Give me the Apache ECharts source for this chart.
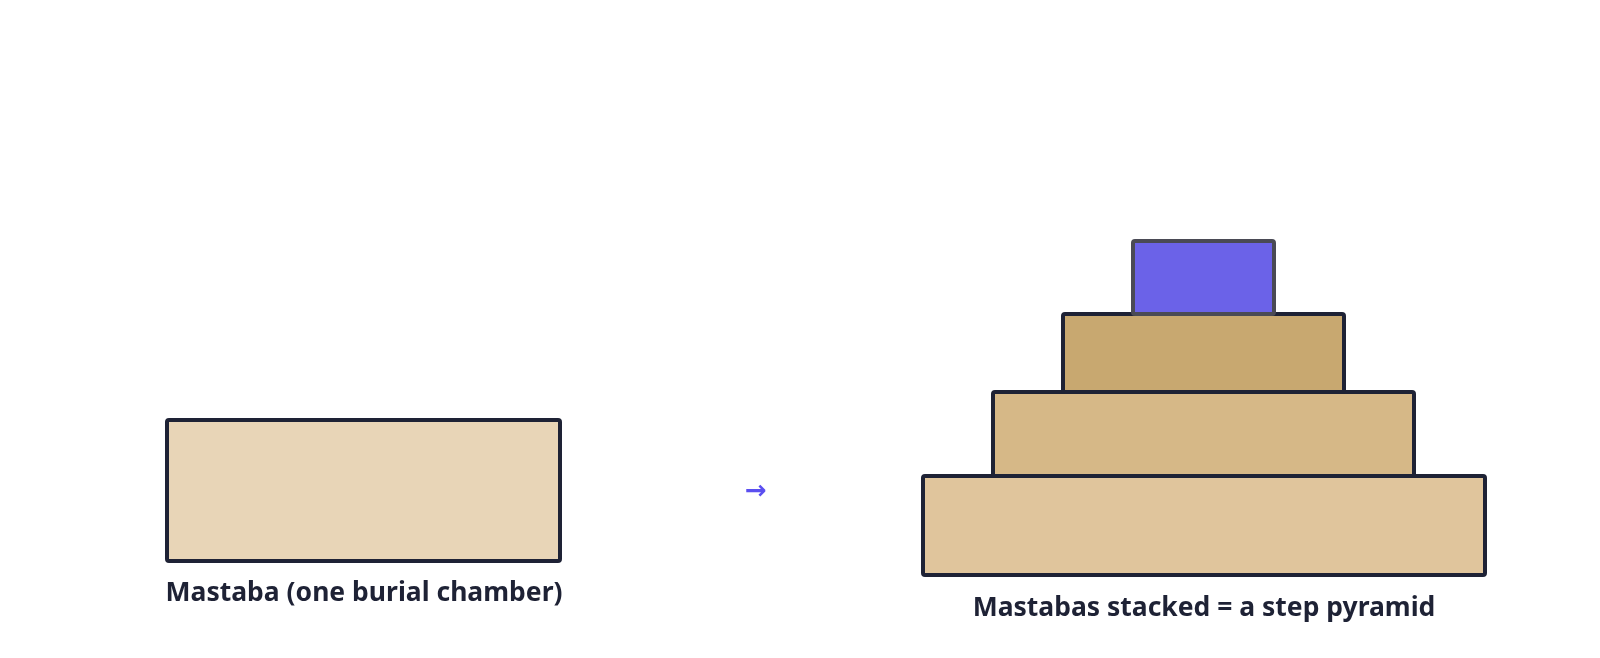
<!DOCTYPE html>
<html><head><meta charset="utf-8">
<script src="https://cdn.jsdelivr.net/npm/echarts@6/dist/echarts.min.js"></script>
<style>html,body{margin:0;padding:0;background:#fff}#c{width:1600px;height:658px}</style>
</head><body><div id="c"></div>
<script>
// blocks: [x0, x1, yTop, yBottom] in diagram units
const blockNames = ['Mastaba','Base','Second','Third','Top'];
const blockX0 = [167, 923, 993, 1063, 1133];
const blockX1 = [560, 1485, 1414, 1344, 1274];
const blockY0 = [420, 476, 392, 314, 241];
const blockY1 = [561, 575, 476, 392, 314];
const blockFill = ['#e8d5b7','#e0c59c','#d6b887','#c8a870','#6b62e8'];
const blockStroke = ['#1e2235','#1e2235','#1e2235','#1e2235','#4a4a55'];
const labels = ['Mastaba (one burial chamber)','Mastabas stacked = a step pyramid','→'];
const labelX = [364, 1204, 756];
const labelY = [593, 608, 492];

const chart = echarts.init(document.getElementById('c'));
chart.setOption({
  animation:false,
  grid:{left:0,right:0,top:0,bottom:0},
  xAxis:{type:'value',min:0,max:1600,show:false},
  yAxis:{type:'value',min:0,max:658,inverse:true,show:false},
  series:[{
    type:'custom',
    data: blockNames.map((n,i)=>[blockX0[i],blockX1[i],blockY0[i],blockY1[i],i]),
    renderItem:(p,api)=>{
      const a=api.coord([api.value(0),api.value(2)]), b=api.coord([api.value(1),api.value(3)]);
      const i=api.value(4);
      return {type:'rect',shape:{x:a[0],y:a[1],width:b[0]-a[0],height:b[1]-a[1],r:2},
        style:{fill:blockFill[i],stroke:blockStroke[i],lineWidth:4}};
    }
  },{
    type:'custom',
    data: labels.map((t,i)=>[labelX[i],labelY[i],i]),
    renderItem:(p,api)=>{
      const c=api.coord([api.value(0),api.value(1)]); const i=api.value(2);
      const arrow = i===2;
      return {type:'text',x:c[0],y:c[1],style:{text:labels[i],textAlign:'center',textVerticalAlign:'middle',
        font: arrow ? 'bold 26px "DejaVu Sans"' : 'bold 26.5px "Noto Sans"',
        fill: arrow ? '#5b4ff0' : '#1e2235'}};
    }
  }]
});
</script></body></html>
